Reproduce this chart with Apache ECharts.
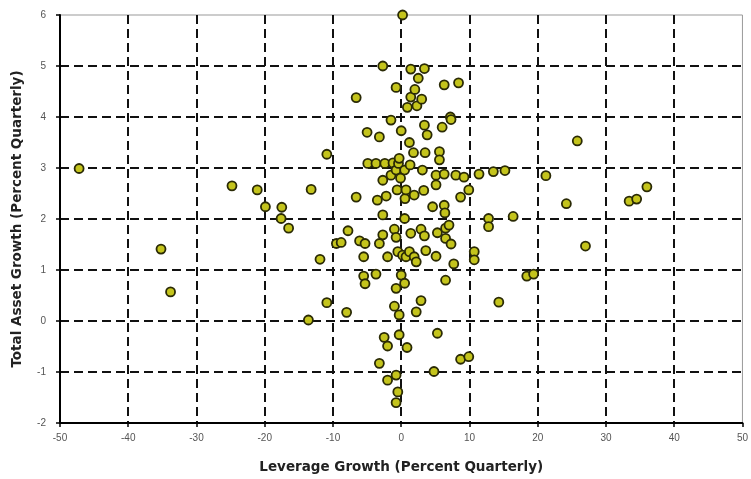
<!DOCTYPE html>
<html>
<head>
<meta charset="utf-8">
<script src="https://cdn.jsdelivr.net/npm/echarts@6/dist/echarts.min.js"></script>
<style>
html,body{margin:0;padding:0;background:#fff;}
#chart{width:751px;height:479px;}
</style>
</head>
<body>
<div id="chart"></div>
<script>
const xTicks = [-50, -40, -30, -20, -10, 0, 10, 20, 30, 40, 50];
const yTicks = [-2, -1, 0, 1, 2, 3, 4, 5, 6];
const xName = "Leverage Growth (Percent Quarterly)";
const yName = "Total Asset Growth (Percent Quarterly)";

const leverageGrowth = [
  -47.2, -35.2, -33.8, -24.8, -21.1, -19.9, -17.5, -17.6, -16.5, -13.2,
  -10.9, -11.9, -10.9, -13.6, -9.5, -8.0, -7.8, -8.8, -6.6, -6.6,
  -6.1, -5.3, -5.5, -5.5, -5.3, -5.0, -4.9, -3.7, -3.2, -3.5,
  -3.7, -3.2, -2.7, -2.7, -2.7, -2.7, -2.4, -2.2, -2.0, -2.5,
  -2.0, -3.2, -2.0, -1.5, -1.5, -1.2, -1.0, -1.0, -0.75, -0.75,
  -0.75, -0.75, -0.75, -0.75, -0.6, -0.5, -0.5, -0.4, -0.3, -0.3,
  -0.3, -0.1, 0.0, 0.0, 0.2, 0.2, 0.5, 0.5, 0.5, 0.55,
  0.7, 0.7, 0.85, 0.9, 1.2, 1.2, 1.3, 1.4, 1.4, 1.4,
  1.8, 1.9, 1.9, 2.0, 2.2, 2.2, 2.3, 2.5, 2.9, 2.9,
  3.0, 3.1, 3.3, 3.4, 3.4, 3.4, 3.5, 3.6, 3.8, 4.6,
  4.8, 5.1, 5.1, 5.1, 5.3, 5.3, 5.6, 5.6, 6.0, 6.3,
  6.3, 6.3, 6.4, 6.5, 6.5, 6.5, 7.0, 7.2, 7.3, 7.3,
  7.7, 8.0, 8.4, 8.7, 8.7, 9.2, 9.9, 9.9, 10.7, 10.7,
  11.4, 12.8, 12.8, 13.5, 14.3, 15.2, 16.4, 18.4, 19.4, 21.2,
  24.2, 25.8, 27.0, 33.4, 34.5, 36.0
];
const assetGrowth = [
  2.99, 1.41, 0.57, 2.65, 2.57, 2.24, 2.23, 2.01, 1.82, 2.58,
  3.27, 1.21, 0.36, 0.02, 1.52, 0.17, 1.77, 1.54, 4.38, 2.43,
  1.57, 1.52, 1.26, 0.88, 0.73, 3.70, 3.09, 3.09, 3.61, 2.37,
  0.92, 1.52, 5.00, 2.76, 2.08, 1.69, 3.09, 2.45, 1.26, -0.32,
  -0.49, -0.83, -1.16, 3.94, 2.86, 3.10, 1.80, 0.29, 4.58, 2.96,
  1.64, 0.64, -1.06, -1.60, 2.57, 1.36, -1.39, 3.09, 3.19, 0.12,
  -0.27, 2.80, 3.73, 0.90, 6.00, 1.29, 2.96, 2.01, 0.74, 2.40,
  2.57, 1.26, -0.52, 4.19, 3.50, 1.36, 3.06, 4.94, 4.39, 1.72,
  3.30, 2.47, 1.26, 4.54, 1.16, 0.18, 4.22, 4.76, 1.80, 0.40,
  4.35, 2.96, 2.56, 4.95, 3.84, 1.67, 3.30, 1.38, 3.65, 2.24,
  -0.99, 2.86, 2.67, 1.27, 1.73, -0.24, 3.32, 3.16, 3.80, 4.63,
  2.88, 2.27, 2.12, 1.82, 1.62, 0.80, 1.88, 4.00, 3.95, 1.51,
  1.12, 2.86, 4.67, 2.43, -0.75, 2.82, 2.57, -0.70, 1.36, 1.20,
  2.88, 2.01, 1.85, 2.93, 0.37, 2.95, 2.05, 0.88, 0.92, 2.85,
  2.30, 3.53, 1.47, 2.35, 2.39, 2.63
];

const points = leverageGrowth.map((x, i) => [x, assetGrowth[i]]);

const chart = echarts.init(document.getElementById('chart'), null, {renderer: 'canvas'});
const gridLine = {show: true, showMinLine: false, showMaxLine: false, lineStyle: {color: '#111', width: 2, type: [9, 5]}};
const nameStyle = {fontFamily: 'DejaVu Sans', fontWeight: 'bold', fontSize: 13.5, color: '#222'};
chart.setOption({
  animation: false,
  backgroundColor: '#fff',
  grid: {left: 60, right: 4, top: 15, bottom: 56, show: true, borderColor: '#999', borderWidth: 1},
  xAxis: {
    type: 'value', min: xTicks[0], max: xTicks[xTicks.length - 1], interval: 10,
    name: xName, nameLocation: 'middle', nameGap: 37,
    nameTextStyle: nameStyle,
    axisLine: {show: true, onZero: false, lineStyle: {color: '#000', width: 2}},
    axisTick: {show: true, inside: false, length: 4, lineStyle: {color: '#000', width: 1.5}},
    axisLabel: {fontFamily: 'Liberation Sans', fontSize: 10, color: '#555', margin: 10},
    splitLine: gridLine
  },
  yAxis: {
    type: 'value', min: yTicks[0], max: yTicks[yTicks.length - 1], interval: 1,
    name: yName, nameLocation: 'middle', nameGap: 36, nameRotate: 90,
    nameTextStyle: nameStyle,
    axisLine: {show: true, onZero: false, lineStyle: {color: '#000', width: 2}},
    axisTick: {show: true, inside: false, length: 4, lineStyle: {color: '#000', width: 1.5}},
    axisLabel: {fontFamily: 'Liberation Sans', fontSize: 10, color: '#555', margin: 14},
    splitLine: gridLine
  },
  series: [{
    type: 'scatter',
    data: points,
    symbol: 'circle',
    symbolSize: 9,
    itemStyle: {color: '#c4c41c', borderColor: '#2a2a05', borderWidth: 1.8, opacity: 1}
  }]
});
</script>
</body>
</html>
